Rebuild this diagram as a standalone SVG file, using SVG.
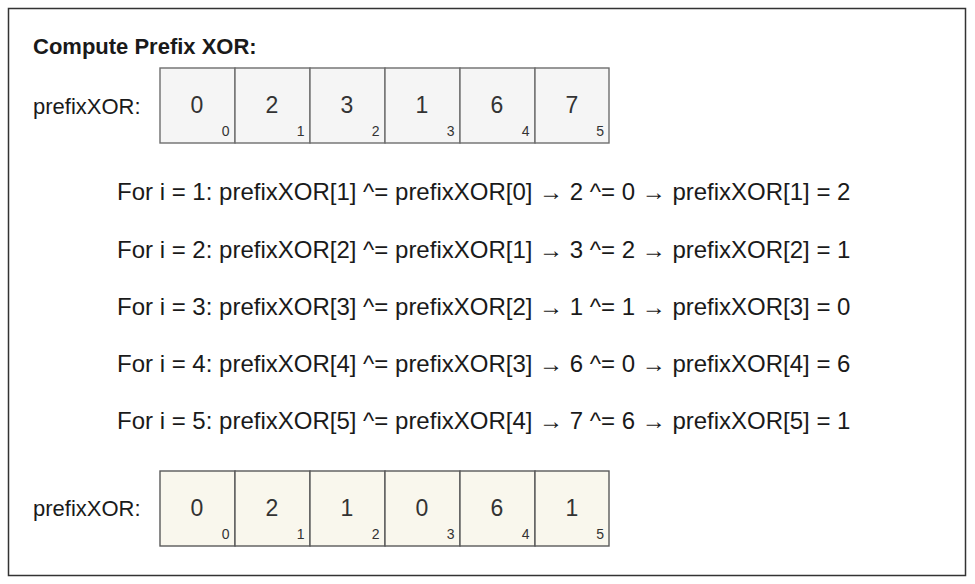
<svg xmlns="http://www.w3.org/2000/svg" width="975" height="584" viewBox="0 0 975 584">
<style>
text{font-family:"Liberation Sans",Arial,sans-serif;fill:#1a1a1a}
.title{font-size:22px;font-weight:bold}
.lbl{font-size:22px}
.num{font-size:23px;text-anchor:middle;fill:#333}
.idx{font-size:14px;text-anchor:end;fill:#333}
.row{font-size:24px}
.c1{fill:#f5f5f5;stroke:#6e6e6e;stroke-width:1.4}
.c2{fill:#f9f7ed;stroke:#5a5a5a;stroke-width:1.4}
</style>
<rect x="8.5" y="8.5" width="957" height="567" fill="#fff" stroke="#333" stroke-width="1.5"/>
<g id="title"><text class="title" x="33" y="54">Compute Prefix XOR:</text></g>
<g id="array-before">
<text class="lbl" x="33" y="114">prefixXOR:</text>
<rect class="c1" x="160" y="68" width="75" height="75"/>
<rect class="c1" x="235" y="68" width="75" height="75"/>
<rect class="c1" x="310" y="68" width="75" height="75"/>
<rect class="c1" x="385" y="68" width="75" height="75"/>
<rect class="c1" x="460" y="68" width="75" height="75"/>
<rect class="c1" x="535" y="68" width="74" height="75"/>
<text class="num" x="197" y="113">0</text>
<text class="num" x="272" y="113">2</text>
<text class="num" x="347" y="113">3</text>
<text class="num" x="422" y="113">1</text>
<text class="num" x="497" y="113">6</text>
<text class="num" x="572" y="113">7</text>
<text class="idx" x="229.5" y="136">0</text>
<text class="idx" x="304.5" y="136">1</text>
<text class="idx" x="379.5" y="136">2</text>
<text class="idx" x="454.5" y="136">3</text>
<text class="idx" x="529.5" y="136">4</text>
<text class="idx" x="604" y="136">5</text>
</g>
<g id="steps">
<text class="row" x="117" y="200">For i = 1: prefixXOR[1] ^= prefixXOR[0] → 2 ^= 0 → prefixXOR[1] = 2</text>
<text class="row" x="117" y="258">For i = 2: prefixXOR[2] ^= prefixXOR[1] → 3 ^= 2 → prefixXOR[2] = 1</text>
<text class="row" x="117" y="315">For i = 3: prefixXOR[3] ^= prefixXOR[2] → 1 ^= 1 → prefixXOR[3] = 0</text>
<text class="row" x="117" y="372">For i = 4: prefixXOR[4] ^= prefixXOR[3] → 6 ^= 0 → prefixXOR[4] = 6</text>
<text class="row" x="117" y="429">For i = 5: prefixXOR[5] ^= prefixXOR[4] → 7 ^= 6 → prefixXOR[5] = 1</text>
</g>
<g id="array-after">
<text class="lbl" x="33" y="516">prefixXOR:</text>
<rect class="c2" x="160" y="471" width="75" height="75"/>
<rect class="c2" x="235" y="471" width="75" height="75"/>
<rect class="c2" x="310" y="471" width="75" height="75"/>
<rect class="c2" x="385" y="471" width="75" height="75"/>
<rect class="c2" x="460" y="471" width="75" height="75"/>
<rect class="c2" x="535" y="471" width="74" height="75"/>
<text class="num" x="197" y="516">0</text>
<text class="num" x="272" y="516">2</text>
<text class="num" x="347" y="516">1</text>
<text class="num" x="422" y="516">0</text>
<text class="num" x="497" y="516">6</text>
<text class="num" x="572" y="516">1</text>
<text class="idx" x="229.5" y="539">0</text>
<text class="idx" x="304.5" y="539">1</text>
<text class="idx" x="379.5" y="539">2</text>
<text class="idx" x="454.5" y="539">3</text>
<text class="idx" x="529.5" y="539">4</text>
<text class="idx" x="604" y="539">5</text>
</g>
</svg>
